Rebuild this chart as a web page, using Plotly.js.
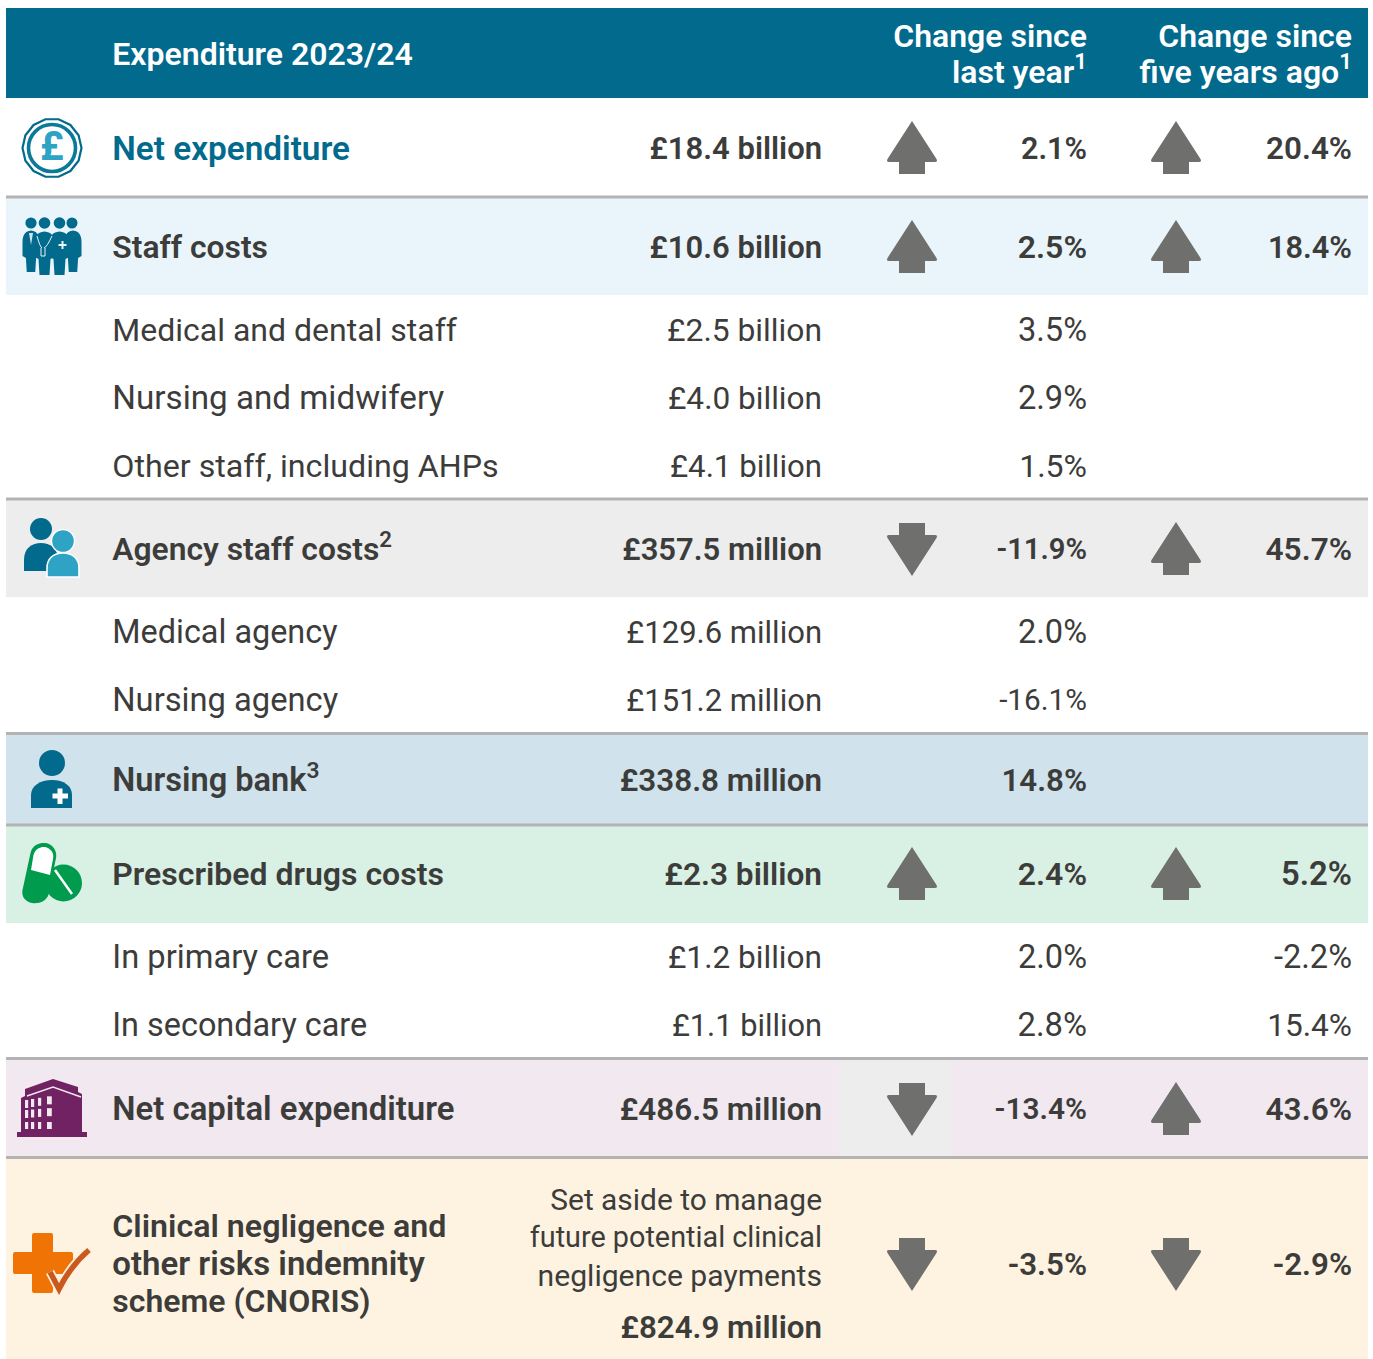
<!DOCTYPE html>
<html><head><meta charset="utf-8">
<script src="https://cdn.plot.ly/plotly-3.0.1.min.js"></script>
<style>html,body{margin:0;padding:0;background:#fff}#c{width:1373px;height:1359px}</style></head>
<body><div id="c"></div>
<script>
// ---------- data ----------
const headerTitle = "Expenditure 2023/24";
const headerLastYear = ["Change since", "last year<sup>1</sup>"];
const headerFiveYears = ["Change since", "five years ago<sup>1</sup>"];

const rowLabels = ["Net expenditure","Staff costs","Medical and dental staff","Nursing and midwifery","Other staff, including AHPs",
  "Agency staff costs<sup>2</sup>","Medical agency","Nursing agency","Nursing bank<sup>3</sup>","Prescribed drugs costs",
  "In primary care","In secondary care","Net capital expenditure"];
const rowAmounts = ["£18.4 billion","£10.6 billion","£2.5 billion","£4.0 billion","£4.1 billion",
  "£357.5 million","£129.6 million","£151.2 million","£338.8 million","£2.3 billion",
  "£1.2 billion","£1.1 billion","£486.5 million"];
const rowChangeLastYear = ["2.1%","2.5%","3.5%","2.9%","1.5%","-11.9%","2.0%","-16.1%","14.8%","2.4%","2.0%","2.8%","-13.4%"];
const rowChangeFiveYears = ["20.4%","18.4%","","","","45.7%","","","","5.2%","-2.2%","15.4%","43.6%"];
const rowIsHeadline = [1,1,0,0,0,1,0,0,1,1,0,0,1];
const arrowsLastYear = [1,1,0,0,0,-1,0,0,0,1,0,0,-1];
const arrowsFiveYears = [1,1,0,0,0,1,0,0,0,1,0,0,1];

const cnorisLabel = ["Clinical negligence and","other risks indemnity","scheme (CNORIS)"];
const cnorisNote = ["Set aside to manage","future potential clinical","negligence payments"];
const cnorisAmount = "£824.9 million";
const cnorisLastYear = "-3.5%";
const cnorisFiveYears = "-2.9%";
const cnorisArrows = [-1,-1];

// ---------- layout and type sizes (pixel scale of the axes) ----------
const rowCentre = [148,247,330,398,466,549,632,700,780,874,957,1025,1109];
const cnorisLabelY = [1226,1264,1301];
const cnorisNoteY = [1200,1237,1275];
const cnorisAmountY = 1327, cnorisCentre = 1264;
const labelSizes = [33.3,31.8,32,33.2,32.2,31.8,32.4,32.7,32.6,32,32.7,32.4,32.9];
const amountSizes = [31,31,31.8,31.6,31.2,31,31,31,31.4,31.6,31.6,30.8,31.4];
const lastYearSizes = [30.5,32,32.6,32.6,32,29.2,32.6,29.7,31.3,32,32.6,32.8,29.8];
const fiveYearSizes = [31.4,30.7,0,0,0,31.6,0,0,0,32.8,32.6,31.6,31.6];
const cnorisLabelSizes = [32.2,33,32];
const cnorisNoteSizes = [29.9,28.8,30.1];
const HEADER_SIZE=32, CNORIS_NUM=31.3;
const X = {left:6,right:1368,label:112.3,amount:822,c1:1087,c5:1352,a1:912,a5:1176};
const DARK="#3c3c3b", TEAL="#026a8d", LIGHT="#2ea3c4", GREY="#6f6f6e", RULE="#b3b3b3";

const shapes=[];
const rect=(x0,y0,x1,y1,fill)=>shapes.push({type:"rect",layer:"below",xref:"x",yref:"y",x0,y0,x1,y1,fillcolor:fill,line:{width:0}});
const circ=(cx,cy,r,fill,line)=>shapes.push({type:"circle",layer:"below",xref:"x",yref:"y",x0:cx-r,x1:cx+r,y0:cy-r,y1:cy+r,fillcolor:fill||"rgba(0,0,0,0)",line:line||{width:0}});
const path=(d,fill,line)=>shapes.push({type:"path",layer:"below",xref:"x",yref:"y",path:d,fillcolor:fill||"rgba(0,0,0,0)",line:line||{width:0}});
const hline=(y)=>shapes.push({type:"line",layer:"below",xref:"x",yref:"y",x0:X.left,x1:X.right,y0:y,y1:y,line:{color:RULE,width:3}});

// bands
rect(X.left,8,X.right,98,TEAL);
rect(X.left,197,X.right,295,"#e9f5fa");
rect(X.left,499,X.right,597,"#ededed");
rect(X.left,734,X.right,825,"#d0e2eb");
rect(X.left,825,X.right,923,"#d9f0e4");
rect(X.left,1059,X.right,1157,"#f1e8f0");
rect(839,1059,951,1157,"#ededed");
rect(X.left,1158,X.right,1359,"#fef3e0");
[197,499,733.5,825,1058.5,1157.5].forEach(hline);

// arrows
function arrow(cx,cy,dir){
  const s=dir; const y=d=>cy+s*d;
  path(`M ${cx},${y(-27)} L ${cx+24.5},${y(11)} Q ${cx+26},${y(14)} ${cx+23},${y(14)} L ${cx+13},${y(14)} L ${cx+13},${y(26)} L ${cx-13},${y(26)} L ${cx-13},${y(14)} L ${cx-23},${y(14)} Q ${cx-26},${y(14)} ${cx-24.5},${y(11)} Z`,GREY);
}
rowCentre.forEach((c,i)=>{ if(arrowsLastYear[i])arrow(X.a1,c,arrowsLastYear[i]); if(arrowsFiveYears[i])arrow(X.a5,c,arrowsFiveYears[i]); });
arrow(X.a1,cnorisCentre,cnorisArrows[0]); arrow(X.a5,cnorisCentre,cnorisArrows[1]);

// --- icons ---
(function(){
  const cx=52,cy=148,n=14,pts=[];
  for(let i=0;i<n;i++){const a=i/n*2*Math.PI;pts.push((cx+29.5*Math.cos(a))+","+(cy+29.5*Math.sin(a)));}
  path("M "+pts.join(" L ")+" Z","#fff",{color:TEAL,width:2.2});
  circ(cx,cy,23.5,"#fff",{color:"#0b7a99",width:3.6});
})();
function person(cx,top,bot,w,fill){
  path(`M ${cx-w*.55},${top} Q ${cx},${top-3} ${cx+w*.55},${top} Q ${cx+w},${top+3} ${cx+w},${top+10} L ${cx+w},${top+24} L ${cx+w*.6},${top+26} L ${cx+w*.5},${bot} L ${cx-w*.5},${bot} L ${cx-w*.6},${top+26} L ${cx-w},${top+24} L ${cx-w},${top+10} Q ${cx-w},${top+3} ${cx-w*.55},${top} Z`,fill);
}
[[31,223,5.6],[44.5,223,5.8],[59.5,223,5.8],[72,223,5.5]].forEach(h=>circ(h[0],h[1],h[2],TEAL));
person(31,232,272,8.5,TEAL); person(73,232,272,8.5,TEAL);
person(44.5,233,275,10,TEAL); person(59.5,233,275,10,TEAL);
path("M 29,233 L 33,233 L 31,245 Z","#cfe6ef");
path("M 37,236 Q 40,247 42,248 M 52,236 Q 47,247 44,248 M 41,248 L 41,256 L 45,256 L 45,248",null,{color:"#e9f5fa",width:1});
rect(61.5,241,63.5,249,"#e9f5fa"); rect(58.5,244,66.5,246,"#e9f5fa");
circ(41,529,11,TEAL);
path("M 24,571 L 24,560 C 24,548 32,543 41,543 C 50,543 58,548 58,560 L 58,571 Z",TEAL);
circ(63,541,11.5,LIGHT,{color:"#fff",width:1.4});
path("M 47,577 L 47,568 C 47,558 54,553 63,553 C 72,553 79,558 79,568 L 79,577 Z",LIGHT,{color:"#fff",width:1.6});
circ(52,763,13,TEAL);
path("M 31,808 L 31,795 C 31,786 40,780 52,780 C 64,780 72,786 72,795 L 72,808 Z",TEAL);
rect(57.5,788.5,62.5,804,"#fff"); rect(52.5,793.5,68,798.5,"#fff");
circ(63.5,883,18.5,"#009b4d");
path("M 55,870 L 72,894",null,{color:"#fff",width:2.5});
path("M 22.5,890 L 30.5,853 C 33,842 45,842 49,844 C 55,847 57,853 56,858 L 49,893 C 47,902 38,904 32,903 C 26,902 21,897 22.5,890 Z","#009b4d");
path("M 31,870 L 33.5,855 C 36,846 45,846 48,848 C 53,851 54,855 53,859 L 50,875 Z","#fff");
path("M 17,1132 L 87,1132 L 87,1137 L 17,1137 Z","#702262");
path("M 21,1132 L 21,1098 L 25,1096 L 25,1089 L 53,1079 L 78,1087 L 78,1092 L 82,1094 L 82,1132 Z","#702262");
path("M 27,1096 L 53,1087 L 81,1097",null,{color:"#f1e8f0",width:1.4});
[[25,1],[31,1],[38,1],[47,1.5]].forEach(w=>{
  [[1100,8,-2],[1110,8,-1],[1122,7,0]].forEach(r=>{
    rect(w[0],r[0]+r[2]*(w[0]-25)/12,w[0]+3.2*w[1],r[0]+r[1]+r[2]*(w[0]-25)/12,"#f1e8f0");
  });
});
path("M 34,1233 L 51,1233 Q 53,1233 53,1235 L 53,1252 L 71,1252 Q 73,1252 73,1254 L 73,1272 Q 73,1274 71,1274 L 53,1274 L 53,1291 Q 53,1293 51,1293 L 34,1293 Q 32,1293 32,1291 L 32,1274 L 15,1274 Q 13,1274 13,1272 L 13,1254 Q 13,1252 15,1252 L 32,1252 L 32,1235 Q 32,1233 34,1233 Z","#f07405");
path("M 50,1272 L 59,1289 C 66,1275 76,1261 89,1250",null,{color:"#fdf0dd",width:9});
path("M 50,1272 L 59,1289 C 66,1275 76,1261 89,1250",null,{color:"#c9591d",width:5.5});

// ---------- text traces ----------
const textTrace=(x,y,text,pos,color,weight,size,dy)=>({
  type:"scatter",mode:"text",x,y:y.map(v=>v+dy),text,textposition:pos,hoverinfo:"skip",showlegend:false,cliponaxis:false,
  textfont:{family:"Roboto, sans-serif",size,color,weight}
});
const WB=600, WR=400;
const col=(arr,sizes,xp,pos,flag,color,w,dy,skip)=>{
  const p=arr.map((v,i)=>({v,i})).filter(o=>!!rowIsHeadline[o.i]===flag&&o.v!==""&&o.i!==skip);
  return textTrace(p.map(()=>xp),p.map(o=>rowCentre[o.i]),p.map(o=>o.v),pos,color,w,p.map(o=>sizes[o.i]),dy);
};
const traces=[
  col(rowLabels,labelSizes,X.label,"middle right",true,DARK,WB,3.2,0),
  col(rowAmounts,amountSizes,X.amount,"middle left",true,DARK,WB,3),
  col(rowChangeLastYear,lastYearSizes,X.c1,"middle left",true,DARK,WB,3),
  col(rowChangeFiveYears,fiveYearSizes,X.c5,"middle left",true,DARK,WB,3),
  col(rowLabels,labelSizes,X.label,"middle right",false,DARK,WR,3),
  col(rowAmounts,amountSizes,X.amount,"middle left",false,DARK,WR,3),
  col(rowChangeLastYear,lastYearSizes,X.c1,"middle left",false,DARK,WR,3),
  col(rowChangeFiveYears,fiveYearSizes,X.c5,"middle left",false,DARK,WR,3),
  textTrace([X.label],[54],[headerTitle],"middle right","#fff",WB,HEADER_SIZE,3),
  textTrace([X.c1,X.c1],[36,72],headerLastYear,"middle left","#fff",WB,HEADER_SIZE,2.6),
  textTrace([X.c5,X.c5],[36,72],headerFiveYears,"middle left","#fff",WB,HEADER_SIZE,2.6),
  textTrace(cnorisLabel.map(()=>X.label),cnorisLabelY,cnorisLabel,"middle right",DARK,WB,cnorisLabelSizes,3.2),
  textTrace(cnorisNote.map(()=>X.amount),cnorisNoteY,cnorisNote,"middle left",DARK,WR,cnorisNoteSizes,3),
  textTrace([X.amount,X.c1,X.c5],[cnorisAmountY,cnorisCentre,cnorisCentre],[cnorisAmount,cnorisLastYear,cnorisFiveYears],"middle left",DARK,WB,CNORIS_NUM,3),
  textTrace([X.label],[rowCentre[0]],[rowLabels[0]],"middle right",TEAL,WB,labelSizes[0],4),
  textTrace([52],[146],["£"],"middle center",LIGHT,700,40,4)
];

Plotly.newPlot("c",traces,{
  width:1373,height:1359,margin:{l:0,r:0,t:0,b:0},paper_bgcolor:"#fff",plot_bgcolor:"#fff",
  showlegend:false,hovermode:false,shapes,
  xaxis:{range:[0,1373],visible:false,fixedrange:true},
  yaxis:{range:[1359,0],visible:false,fixedrange:true}
},{displayModeBar:false,staticPlot:true});
</script></body></html>
